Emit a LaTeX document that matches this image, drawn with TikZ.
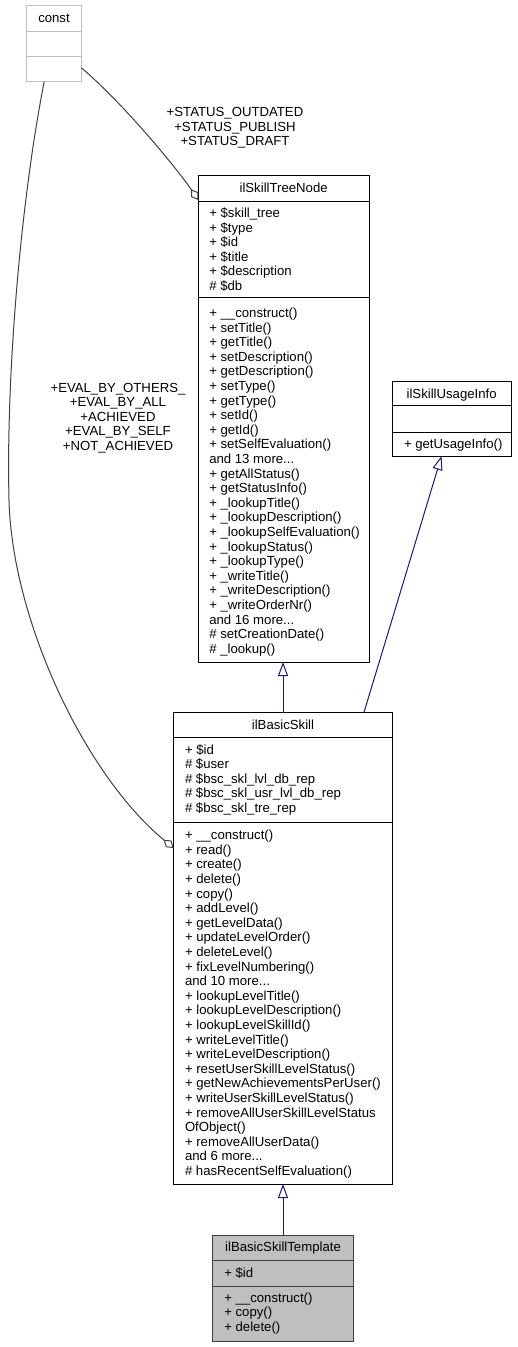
\documentclass[tikz,border=0pt]{standalone}
\usepackage{fontspec}
\setmainfont{Liberation Sans}
\usetikzlibrary{arrows.meta,fit,calc}
\definecolor{edgegray}{HTML}{404040}
\definecolor{inhblue}{HTML}{191970}
\definecolor{constgray}{HTML}{BFBFBF}
\definecolor{tmplfill}{HTML}{BFBFBF}
\definecolor{tmplborder}{HTML}{404040}
\begin{document}
\begin{tikzpicture}[x=0.75pt,y=-0.75pt,
  every node/.style={font=\fontsize{9.88}{10.95}\selectfont, inner sep=0pt, outer sep=0pt},
  classbox/.style={draw=black, line width=0.75pt},
  members/.style={anchor=north west, align=left},
  titletext/.style={anchor=base},
  sepline/.style={draw=black, line width=0.75pt},
  inh/.style={draw=inhblue, line width=0.75pt, -{Triangle[open,length=10.5pt,width=7.5pt]}},
  agg/.style={draw=edgegray, line width=0.75pt, -{Diamond[open,length=9.75pt,width=6.5pt]}},
  lbl/.style={anchor=north, align=center}]

\useasboundingbox (0,0) rectangle (518,1347);

% const
\node[draw=constgray, line width=0.75pt, fit={(26.7,5.7) (81.3,81.7)}] (const) {};
\draw[draw=constgray, line width=0.75pt] (const.west |- 0,31.3) -- (const.east |- 0,31.3);
\draw[draw=constgray, line width=0.75pt] (const.west |- 0,56.7) -- (const.east |- 0,56.7);
\node[titletext] (constT) at (const.north |- 0,22.8) {const};

% ilSkillTreeNode
\node[classbox, fit={(198.3,175) (369,662)}] (tree) {};
\draw[sepline] (tree.west |- 0,201) -- (tree.east |- 0,201);
\draw[sepline] (tree.west |- 0,297.7) -- (tree.east |- 0,297.7);
\node[titletext] (treeT) at (tree.north |- 0,192.7) {ilSkillTreeNode};
\node[members] (treeA) at (209.3,207.2) {\strut+ \$skill\_tree\\+ \$type\\+ \$id\\+ \$title\\+ \$description\\\# \$db};
\node[members] (treeM) at (209.3,307.2) {\strut+ \_\_construct()\\+ setTitle()\\+ getTitle()\\+ setDescription()\\+ getDescription()\\+ setType()\\+ getType()\\+ setId()\\+ getId()\\+ setSelfEvaluation()\\and 13 more...\\+ getAllStatus()\\+ getStatusInfo()\\+ \_lookupTitle()\\+ \_lookupDescription()\\+ \_lookupSelfEvaluation()\\+ \_lookupStatus()\\+ \_lookupType()\\+ \_writeTitle()\\+ \_writeDescription()\\+ \_writeOrderNr()\\and 16 more...\\\# setCreationDate()\\\# \_lookup()};

% ilSkillUsageInfo
\node[classbox, fit={(392.3,381.7) (511,456)}] (usage) {};
\draw[sepline] (usage.west |- 0,405) -- (usage.east |- 0,405);
\draw[sepline] (usage.west |- 0,432.3) -- (usage.east |- 0,432.3);
\node[titletext] (usageT) at (usage.north |- 0,398) {ilSkillUsageInfo};
\node[members] (usageM) at (404,437.8) {\strut+ getUsageInfo()};

% ilBasicSkill
\node[classbox, fit={(173.7,712.7) (392.3,1184)}] (basic) {};
\draw[sepline] (basic.west |- 0,737.3) -- (basic.east |- 0,737.3);
\draw[sepline] (basic.west |- 0,822.3) -- (basic.east |- 0,822.3);
\node[titletext] (basicT) at (basic.north |- 0,729.7) {ilBasicSkill};
\node[members] (basicA) at (185,743.8) {\strut+ \$id\\\# \$user\\\# \$bsc\_skl\_lvl\_db\_rep\\\# \$bsc\_skl\_usr\_lvl\_db\_rep\\\# \$bsc\_skl\_tre\_rep};
\node[members] (basicM) at (185,829.5) {\strut+ \_\_construct()\\+ read()\\+ create()\\+ delete()\\+ copy()\\+ addLevel()\\+ getLevelData()\\+ updateLevelOrder()\\+ deleteLevel()\\+ fixLevelNumbering()\\and 10 more...\\+ lookupLevelTitle()\\+ lookupLevelDescription()\\+ lookupLevelSkillId()\\+ writeLevelTitle()\\+ writeLevelDescription()\\+ resetUserSkillLevelStatus()\\+ getNewAchievementsPerUser()\\+ writeUserSkillLevelStatus()\\+ removeAllUserSkillLevelStatus\\OfObject()\\+ removeAllUserData()\\and 6 more...\\\# hasRecentSelfEvaluation()};

% ilBasicSkillTemplate
\node[draw=tmplborder, fill=tmplfill, line width=0.75pt, fit={(212.7,1235.7) (353.3,1341)}] (tmpl) {};
\draw[draw=tmplborder, line width=0.75pt] (tmpl.west |- 0,1260) -- (tmpl.east |- 0,1260);
\draw[draw=tmplborder, line width=0.75pt] (tmpl.west |- 0,1286) -- (tmpl.east |- 0,1286);
\node[titletext] (tmplT) at (tmpl.north |- 0,1251.4) {ilBasicSkillTemplate};
\node[members] (tmplA) at (224.3,1267.2) {\strut+ \$id};
\node[members] (tmplM) at (224.3,1291.8) {\strut+ \_\_construct()\\+ copy()\\+ delete()};

% connectors
\draw[agg] (const.east |- 0,67.7) .. controls (125,105) and (178,170) .. (tree.west |- 0,200);
\node[lbl] (statusL) at (235,107.2) {+STATUS\_OUTDATED\\+STATUS\_PUBLISH\\+STATUS\_DRAFT};

\draw[agg] ($(const.south west)!0.32!(const.south east)$) .. controls (20,205) and (6,380) .. (9,500) .. controls (12,620) and (85,775) .. (basic.west |- 0,848);
\node[lbl] (evalL) at (118,382.8) {+EVAL\_BY\_OTHERS\_\\+EVAL\_BY\_ALL\\+ACHIEVED\\+EVAL\_BY\_SELF\\+NOT\_ACHIEVED};

\draw[inh] (basic.north) -- (basic.north |- tree.south);
\draw[inh] ($(basic.north west)!0.87!(basic.north east)$) -- ($(usage.south west)!0.415!(usage.south east)$);
\draw[inh] (tmpl.north) -- (tmpl.north |- basic.south);

\end{tikzpicture}
\end{document}
